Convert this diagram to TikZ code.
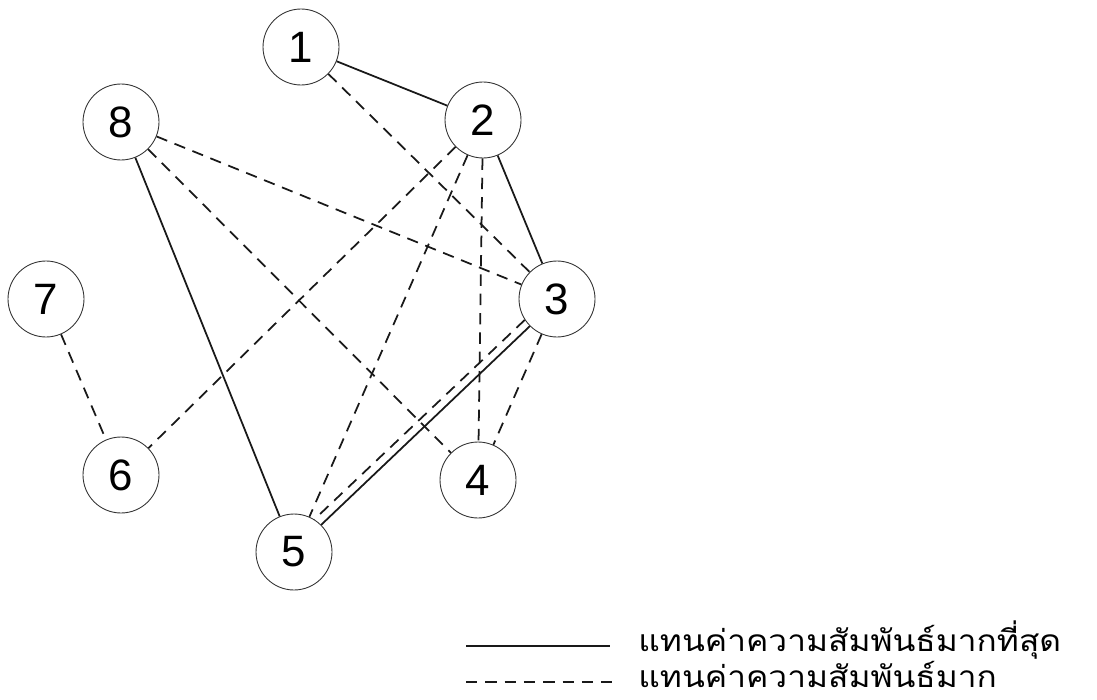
\documentclass[tikz,border=0pt]{standalone}
\usepackage{fontspec}
\setmainfont{Liberation Sans}
\newfontfamily\thaifont[Script=Thai]{Loma}
\usetikzlibrary{calc}
\colorlet{relLine}{black!90}
\tikzset{
  relnode/.style={
    circle, draw=black!80, line width=0.5pt, minimum size=1.52cm,
    inner sep=0pt, font=\fontsize{25}{25}\selectfont
  },
  relstrong/.style={draw=relLine, line width=1pt},
  relweak/.style={draw=relLine, line width=1pt, dash pattern=on 6.5pt off 4.5pt},
  reltext/.style={anchor=base west, font=\thaifont\fontsize{17}{17}\selectfont,
    inner sep=0pt, xscale=1.12, transform shape}
}
\begin{document}
\begin{tikzpicture}[x=0.02cm,y=-0.02cm]
  \useasboundingbox (0,0) rectangle (1097,699);

  \node[relnode] (v1) at (301,47) {1};
  \node[relnode] (v2) at (483,120) {2};
  \node[relnode] (v3) at (557,299) {3};
  \node[relnode] (v4) at (478,480) {4};
  \node[relnode] (v5) at (294,552) {5};
  \node[relnode] (v6) at (121,475) {6};
  \node[relnode] (v7) at (46,299) {7};
  \node[relnode] (v8) at (121,122) {8};

  % strongest relations
  \draw[relstrong] (v1) -- (v2);
  \draw[relstrong] (v2) -- (v3);
  \draw[relstrong] (v8) -- (v5);
  \draw[relstrong] (v3.225) -- (v5.45);

  % strong relations
  \draw[relweak] (v1) -- (v3);
  \draw[relweak] (v8) -- (v3);
  \draw[relweak] (v8) -- (v4);
  \draw[relweak] (v2) -- (v6);
  \draw[relweak] (v2) -- (v5);
  \draw[relweak] (v2) -- (v4);
  \draw[relweak] (v3.213) -- (v5.58);
  \draw[relweak] (v3) -- (v4);
  \draw[relweak] (v7) -- (v6);

  % legend
  \coordinate (keyA1) at (466,646);
  \coordinate (keyA2) at (610,646);
  \coordinate (keyB1) at (466,682);
  \coordinate (keyB2) at (612,682);
  \draw[relstrong] (keyA1) -- (keyA2);
  \draw[relweak] (keyB1) -- (keyB2);
  \node[reltext] (keyAtxt) at (638,651) {แทนค่าความสัมพันธ์มากที่สุด};
  \node[reltext] (keyBtxt) at (638,687) {แทนค่าความสัมพันธ์มาก};
\end{tikzpicture}
\end{document}
